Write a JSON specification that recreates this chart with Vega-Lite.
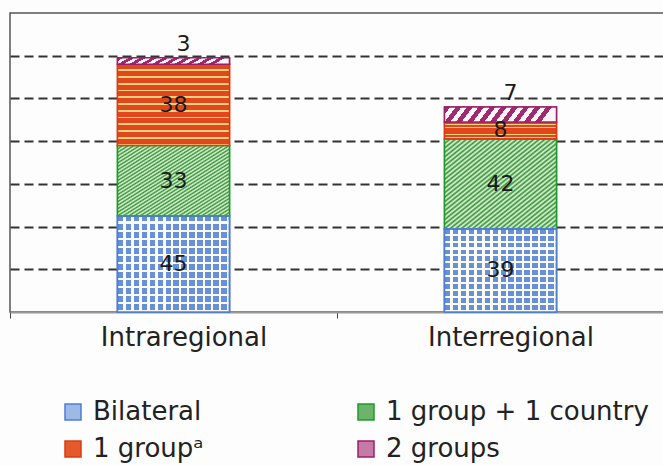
{
  "$schema": "https://vega.github.io/schema/vega-lite/v6.json",
  "width": 654,
  "height": 299,
  "autosize": {"type": "none"},
  "padding": {"left": 10, "top": 13, "right": 0, "bottom": 154},
  "background": "#fdfdfd",
  "config": {
    "view": {"stroke": "#555555", "strokeWidth": 1.5},
    "font": "DejaVu Sans"
  },
  "data": {
    "values": [
      {"region": "Intraregional", "type": "Bilateral", "rank": 1, "value": 45},
      {"region": "Intraregional", "type": "1 group + 1 country", "rank": 2, "value": 33},
      {"region": "Intraregional", "type": "1 group", "rank": 3, "value": 38},
      {"region": "Intraregional", "type": "2 groups", "rank": 4, "value": 3},
      {"region": "Interregional", "type": "Bilateral", "rank": 1, "value": 39},
      {"region": "Interregional", "type": "1 group + 1 country", "rank": 2, "value": 42},
      {"region": "Interregional", "type": "1 group", "rank": 3, "value": 8},
      {"region": "Interregional", "type": "2 groups", "rank": 4, "value": 7}
    ]
  },
  "encoding": {
    "x": {
      "field": "region",
      "type": "nominal",
      "sort": ["Intraregional", "Interregional"],
      "scale": {"paddingInner": 0, "paddingOuter": 0},
      "axis": {
        "title": null,
        "labelAngle": 0,
        "labelFont": "DejaVu Sans",
        "labelFontSize": 26,
        "labelColor": "#222222",
        "labelOffset": 10,
        "labelPadding": 6,
        "tickBand": "extent",
        "tickSize": 6,
        "tickColor": "#444444",
        "tickWidth": 1,
        "domainColor": "#999999",
        "domainWidth": 2,
        "grid": false
      }
    },
    "y": {
      "field": "value", "type": "quantitative", "stack": "zero",
      "scale": {"domain": [0, 140], "nice": false},
      "axis": {"title": null, "values": [20, 40, 60, 80, 100, 120], "grid": true, "gridColor": "#333333", "gridDash": [9, 5], "gridWidth": 1.8, "labels": false, "ticks": false, "domain": false}
    },
    "order": {"field": "rank", "type": "quantitative"}
  },
  "layer": [
    {
      "mark": {"type": "bar", "width": {"band": 0.3425}, "strokeWidth": 1.5},
      "encoding": {
        "color": {
          "field": "type", "type": "nominal",
          "sort": ["Bilateral", "1 group", "1 group + 1 country", "2 groups"],
          "scale": {"range": ["#9fb9e6", "#e45a2c", "#6cb46c", "#c67aa6"]},
          "legend": {
            "orient": "none", "legendX": 50, "legendY": 386, "columns": 2, "title": null,
            "labelFont": "DejaVu Sans", "labelFontSize": 26, "labelColor": "#222222", "labelLimit": 400,
            "symbolType": "square", "symbolSize": 256, "symbolStrokeWidth": 1.5,
            "labelOffset": 7, "rowPadding": 11, "columnPadding": 149,
            "labelExpr": "datum.label === '1 group' ? '1 groupᵃ' : datum.label",
            "encode": {
              "symbols": {
                "update": {
                  "stroke": {"signal": "datum.value === 'Bilateral' ? '#4f7fd0' : datum.value === '1 group' ? '#dc3a12' : datum.value === '1 group + 1 country' ? '#1f9a2a' : '#9c2068'"},
                  "strokeWidth": {"value": 1.5}
                }
              }
            }
          }
        },
        "stroke": {
          "field": "type", "type": "nominal",
          "sort": ["Bilateral", "1 group", "1 group + 1 country", "2 groups"],
          "scale": {"range": ["#4f7fd0", "#dc3a12", "#1f9a2a", "#9c2068"]},
          "legend": null
        }
      }
    },
    {
      "mark": {"type": "bar", "width": {"band": 0.3425}, "strokeWidth": 1.5},
      "encoding": {
        "detail": {"field": "type", "type": "nominal"},
        "stroke": {
          "condition": [
            {"test": "datum.type === 'Bilateral'", "value": "#4f7fd0"},
            {"test": "datum.type === '1 group + 1 country'", "value": "#1f9a2a"},
            {"test": "datum.type === '1 group'", "value": "#dc3a12"}
          ],
          "value": "#9c2068"
        },
        "fill": {
          "condition": [
            {"test": "datum.type === 'Bilateral'", "value":
              {"gradient": "linear", "x1": 0, "y1": 0, "x2": 1, "y2": 0, "stops": [
                {"offset": 0, "color": "#6690dc"}, {"offset": 0.046429, "color": "#6690dc"}, {"offset": 0.046429, "color": "#fdfcf0"}, {"offset": 0.071429, "color": "#fdfcf0"},
                {"offset": 0.071429, "color": "#6690dc"}, {"offset": 0.117857, "color": "#6690dc"}, {"offset": 0.117857, "color": "#fdfcf0"}, {"offset": 0.142857, "color": "#fdfcf0"},
                {"offset": 0.142857, "color": "#6690dc"}, {"offset": 0.189286, "color": "#6690dc"}, {"offset": 0.189286, "color": "#fdfcf0"}, {"offset": 0.214286, "color": "#fdfcf0"},
                {"offset": 0.214286, "color": "#6690dc"}, {"offset": 0.260714, "color": "#6690dc"}, {"offset": 0.260714, "color": "#fdfcf0"}, {"offset": 0.285714, "color": "#fdfcf0"},
                {"offset": 0.285714, "color": "#6690dc"}, {"offset": 0.332143, "color": "#6690dc"}, {"offset": 0.332143, "color": "#fdfcf0"}, {"offset": 0.357143, "color": "#fdfcf0"},
                {"offset": 0.357143, "color": "#6690dc"}, {"offset": 0.403571, "color": "#6690dc"}, {"offset": 0.403571, "color": "#fdfcf0"}, {"offset": 0.428571, "color": "#fdfcf0"},
                {"offset": 0.428571, "color": "#6690dc"}, {"offset": 0.475, "color": "#6690dc"}, {"offset": 0.475, "color": "#fdfcf0"}, {"offset": 0.5, "color": "#fdfcf0"},
                {"offset": 0.5, "color": "#6690dc"}, {"offset": 0.546429, "color": "#6690dc"}, {"offset": 0.546429, "color": "#fdfcf0"}, {"offset": 0.571429, "color": "#fdfcf0"},
                {"offset": 0.571429, "color": "#6690dc"}, {"offset": 0.617857, "color": "#6690dc"}, {"offset": 0.617857, "color": "#fdfcf0"}, {"offset": 0.642857, "color": "#fdfcf0"},
                {"offset": 0.642857, "color": "#6690dc"}, {"offset": 0.689286, "color": "#6690dc"}, {"offset": 0.689286, "color": "#fdfcf0"}, {"offset": 0.714286, "color": "#fdfcf0"},
                {"offset": 0.714286, "color": "#6690dc"}, {"offset": 0.760714, "color": "#6690dc"}, {"offset": 0.760714, "color": "#fdfcf0"}, {"offset": 0.785714, "color": "#fdfcf0"},
                {"offset": 0.785714, "color": "#6690dc"}, {"offset": 0.832143, "color": "#6690dc"}, {"offset": 0.832143, "color": "#fdfcf0"}, {"offset": 0.857143, "color": "#fdfcf0"},
                {"offset": 0.857143, "color": "#6690dc"}, {"offset": 0.903571, "color": "#6690dc"}, {"offset": 0.903571, "color": "#fdfcf0"}, {"offset": 0.928571, "color": "#fdfcf0"},
                {"offset": 0.928571, "color": "#6690dc"}, {"offset": 0.975, "color": "#6690dc"}, {"offset": 0.975, "color": "#fdfcf0"}, {"offset": 1, "color": "#fdfcf0"}
              ]}
            },
            {"test": "datum.type === '1 group + 1 country'", "value":
              {"gradient": "linear", "x1": 0, "y1": 0, "x2": 1, "y2": 1, "stops": [
                {"offset": 0, "color": "#2f942f"}, {"offset": 0.0125, "color": "#e8f5e2"}, {"offset": 0.025, "color": "#2f942f"}, {"offset": 0.0375, "color": "#e8f5e2"},
                {"offset": 0.05, "color": "#2f942f"}, {"offset": 0.0625, "color": "#e8f5e2"}, {"offset": 0.075, "color": "#2f942f"}, {"offset": 0.0875, "color": "#e8f5e2"},
                {"offset": 0.1, "color": "#2f942f"}, {"offset": 0.1125, "color": "#e8f5e2"}, {"offset": 0.125, "color": "#2f942f"}, {"offset": 0.1375, "color": "#e8f5e2"},
                {"offset": 0.15, "color": "#2f942f"}, {"offset": 0.1625, "color": "#e8f5e2"}, {"offset": 0.175, "color": "#2f942f"}, {"offset": 0.1875, "color": "#e8f5e2"},
                {"offset": 0.2, "color": "#2f942f"}, {"offset": 0.2125, "color": "#e8f5e2"}, {"offset": 0.225, "color": "#2f942f"}, {"offset": 0.2375, "color": "#e8f5e2"},
                {"offset": 0.25, "color": "#2f942f"}, {"offset": 0.2625, "color": "#e8f5e2"}, {"offset": 0.275, "color": "#2f942f"}, {"offset": 0.2875, "color": "#e8f5e2"},
                {"offset": 0.3, "color": "#2f942f"}, {"offset": 0.3125, "color": "#e8f5e2"}, {"offset": 0.325, "color": "#2f942f"}, {"offset": 0.3375, "color": "#e8f5e2"},
                {"offset": 0.35, "color": "#2f942f"}, {"offset": 0.3625, "color": "#e8f5e2"}, {"offset": 0.375, "color": "#2f942f"}, {"offset": 0.3875, "color": "#e8f5e2"},
                {"offset": 0.4, "color": "#2f942f"}, {"offset": 0.4125, "color": "#e8f5e2"}, {"offset": 0.425, "color": "#2f942f"}, {"offset": 0.4375, "color": "#e8f5e2"},
                {"offset": 0.45, "color": "#2f942f"}, {"offset": 0.4625, "color": "#e8f5e2"}, {"offset": 0.475, "color": "#2f942f"}, {"offset": 0.4875, "color": "#e8f5e2"},
                {"offset": 0.5, "color": "#2f942f"}, {"offset": 0.5125, "color": "#e8f5e2"}, {"offset": 0.525, "color": "#2f942f"}, {"offset": 0.5375, "color": "#e8f5e2"},
                {"offset": 0.55, "color": "#2f942f"}, {"offset": 0.5625, "color": "#e8f5e2"}, {"offset": 0.575, "color": "#2f942f"}, {"offset": 0.5875, "color": "#e8f5e2"},
                {"offset": 0.6, "color": "#2f942f"}, {"offset": 0.6125, "color": "#e8f5e2"}, {"offset": 0.625, "color": "#2f942f"}, {"offset": 0.6375, "color": "#e8f5e2"},
                {"offset": 0.65, "color": "#2f942f"}, {"offset": 0.6625, "color": "#e8f5e2"}, {"offset": 0.675, "color": "#2f942f"}, {"offset": 0.6875, "color": "#e8f5e2"},
                {"offset": 0.7, "color": "#2f942f"}, {"offset": 0.7125, "color": "#e8f5e2"}, {"offset": 0.725, "color": "#2f942f"}, {"offset": 0.7375, "color": "#e8f5e2"},
                {"offset": 0.75, "color": "#2f942f"}, {"offset": 0.7625, "color": "#e8f5e2"}, {"offset": 0.775, "color": "#2f942f"}, {"offset": 0.7875, "color": "#e8f5e2"},
                {"offset": 0.8, "color": "#2f942f"}, {"offset": 0.8125, "color": "#e8f5e2"}, {"offset": 0.825, "color": "#2f942f"}, {"offset": 0.8375, "color": "#e8f5e2"},
                {"offset": 0.85, "color": "#2f942f"}, {"offset": 0.8625, "color": "#e8f5e2"}, {"offset": 0.875, "color": "#2f942f"}, {"offset": 0.8875, "color": "#e8f5e2"},
                {"offset": 0.9, "color": "#2f942f"}, {"offset": 0.9125, "color": "#e8f5e2"}, {"offset": 0.925, "color": "#2f942f"}, {"offset": 0.9375, "color": "#e8f5e2"},
                {"offset": 0.95, "color": "#2f942f"}, {"offset": 0.9625, "color": "#e8f5e2"}, {"offset": 0.975, "color": "#2f942f"}, {"offset": 0.9875, "color": "#e8f5e2"},
                {"offset": 1, "color": "#2f942f"}
              ]}
            },
            {"test": "datum.type === '1 group'", "value":
              {"gradient": "linear", "x1": 0, "y1": 0, "x2": 0, "y2": 1, "stops": [
                {"offset": 0, "color": "#e2461c"}, {"offset": 0.0625, "color": "#e2461c"}, {"offset": 0.0625, "color": "#f6d27c"}, {"offset": 0.083333, "color": "#f6d27c"},
                {"offset": 0.083333, "color": "#e2461c"}, {"offset": 0.145833, "color": "#e2461c"}, {"offset": 0.145833, "color": "#f6d27c"}, {"offset": 0.166667, "color": "#f6d27c"},
                {"offset": 0.166667, "color": "#e2461c"}, {"offset": 0.229167, "color": "#e2461c"}, {"offset": 0.229167, "color": "#f6d27c"}, {"offset": 0.25, "color": "#f6d27c"},
                {"offset": 0.25, "color": "#e2461c"}, {"offset": 0.3125, "color": "#e2461c"}, {"offset": 0.3125, "color": "#f6d27c"}, {"offset": 0.333333, "color": "#f6d27c"},
                {"offset": 0.333333, "color": "#e2461c"}, {"offset": 0.395833, "color": "#e2461c"}, {"offset": 0.395833, "color": "#f6d27c"}, {"offset": 0.416667, "color": "#f6d27c"},
                {"offset": 0.416667, "color": "#e2461c"}, {"offset": 0.479167, "color": "#e2461c"}, {"offset": 0.479167, "color": "#f6d27c"}, {"offset": 0.5, "color": "#f6d27c"},
                {"offset": 0.5, "color": "#e2461c"}, {"offset": 0.5625, "color": "#e2461c"}, {"offset": 0.5625, "color": "#f6d27c"}, {"offset": 0.583333, "color": "#f6d27c"},
                {"offset": 0.583333, "color": "#e2461c"}, {"offset": 0.645833, "color": "#e2461c"}, {"offset": 0.645833, "color": "#f6d27c"}, {"offset": 0.666667, "color": "#f6d27c"},
                {"offset": 0.666667, "color": "#e2461c"}, {"offset": 0.729167, "color": "#e2461c"}, {"offset": 0.729167, "color": "#f6d27c"}, {"offset": 0.75, "color": "#f6d27c"},
                {"offset": 0.75, "color": "#e2461c"}, {"offset": 0.8125, "color": "#e2461c"}, {"offset": 0.8125, "color": "#f6d27c"}, {"offset": 0.833333, "color": "#f6d27c"},
                {"offset": 0.833333, "color": "#e2461c"}, {"offset": 0.895833, "color": "#e2461c"}, {"offset": 0.895833, "color": "#f6d27c"}, {"offset": 0.916667, "color": "#f6d27c"},
                {"offset": 0.916667, "color": "#e2461c"}, {"offset": 0.979167, "color": "#e2461c"}, {"offset": 0.979167, "color": "#f6d27c"}, {"offset": 1, "color": "#f6d27c"}
              ]}
            }
          ],
          "value": {"gradient": "linear", "x1": 0, "y1": 0, "x2": 1, "y2": 0.1, "stops": [
            {"offset": 0, "color": "#a02a70"}, {"offset": 0.05, "color": "#a02a70"}, {"offset": 0.05, "color": "#fbf4f8"}, {"offset": 0.1, "color": "#fbf4f8"},
            {"offset": 0.1, "color": "#a02a70"}, {"offset": 0.15, "color": "#a02a70"}, {"offset": 0.15, "color": "#fbf4f8"}, {"offset": 0.2, "color": "#fbf4f8"},
            {"offset": 0.2, "color": "#a02a70"}, {"offset": 0.25, "color": "#a02a70"}, {"offset": 0.25, "color": "#fbf4f8"}, {"offset": 0.3, "color": "#fbf4f8"},
            {"offset": 0.3, "color": "#a02a70"}, {"offset": 0.35, "color": "#a02a70"}, {"offset": 0.35, "color": "#fbf4f8"}, {"offset": 0.4, "color": "#fbf4f8"},
            {"offset": 0.4, "color": "#a02a70"}, {"offset": 0.45, "color": "#a02a70"}, {"offset": 0.45, "color": "#fbf4f8"}, {"offset": 0.5, "color": "#fbf4f8"},
            {"offset": 0.5, "color": "#a02a70"}, {"offset": 0.55, "color": "#a02a70"}, {"offset": 0.55, "color": "#fbf4f8"}, {"offset": 0.6, "color": "#fbf4f8"},
            {"offset": 0.6, "color": "#a02a70"}, {"offset": 0.65, "color": "#a02a70"}, {"offset": 0.65, "color": "#fbf4f8"}, {"offset": 0.7, "color": "#fbf4f8"},
            {"offset": 0.7, "color": "#a02a70"}, {"offset": 0.75, "color": "#a02a70"}, {"offset": 0.75, "color": "#fbf4f8"}, {"offset": 0.8, "color": "#fbf4f8"},
            {"offset": 0.8, "color": "#a02a70"}, {"offset": 0.85, "color": "#a02a70"}, {"offset": 0.85, "color": "#fbf4f8"}, {"offset": 0.9, "color": "#fbf4f8"},
            {"offset": 0.9, "color": "#a02a70"}, {"offset": 0.95, "color": "#a02a70"}, {"offset": 0.95, "color": "#fbf4f8"}, {"offset": 1, "color": "#fbf4f8"}
          ]}
        }
      }
    },
    {
      "mark": {"type": "bar", "width": {"band": 0.3425}, "strokeWidth": 1.5},
      "encoding": {
        "detail": {"field": "type", "type": "nominal"},
        "stroke": {
          "condition": {"test": "datum.type === 'Bilateral'", "value": "#4f7fd0"},
          "value": "rgba(0,0,0,0)"
        },
        "fill": {
          "condition": {"test": "datum.type === 'Bilateral'", "value":
            {"gradient": "linear", "x1": 0, "y1": 0, "x2": 0, "y2": 1, "stops": [
              {"offset": 0, "color": "rgba(253,252,240,0)"}, {"offset": 0.058333, "color": "rgba(253,252,240,0)"}, {"offset": 0.058333, "color": "#fdfcf0"}, {"offset": 0.083333, "color": "#fdfcf0"},
              {"offset": 0.083333, "color": "rgba(253,252,240,0)"}, {"offset": 0.141667, "color": "rgba(253,252,240,0)"}, {"offset": 0.141667, "color": "#fdfcf0"}, {"offset": 0.166667, "color": "#fdfcf0"},
              {"offset": 0.166667, "color": "rgba(253,252,240,0)"}, {"offset": 0.225, "color": "rgba(253,252,240,0)"}, {"offset": 0.225, "color": "#fdfcf0"}, {"offset": 0.25, "color": "#fdfcf0"},
              {"offset": 0.25, "color": "rgba(253,252,240,0)"}, {"offset": 0.308333, "color": "rgba(253,252,240,0)"}, {"offset": 0.308333, "color": "#fdfcf0"}, {"offset": 0.333333, "color": "#fdfcf0"},
              {"offset": 0.333333, "color": "rgba(253,252,240,0)"}, {"offset": 0.391667, "color": "rgba(253,252,240,0)"}, {"offset": 0.391667, "color": "#fdfcf0"}, {"offset": 0.416667, "color": "#fdfcf0"},
              {"offset": 0.416667, "color": "rgba(253,252,240,0)"}, {"offset": 0.475, "color": "rgba(253,252,240,0)"}, {"offset": 0.475, "color": "#fdfcf0"}, {"offset": 0.5, "color": "#fdfcf0"},
              {"offset": 0.5, "color": "rgba(253,252,240,0)"}, {"offset": 0.558333, "color": "rgba(253,252,240,0)"}, {"offset": 0.558333, "color": "#fdfcf0"}, {"offset": 0.583333, "color": "#fdfcf0"},
              {"offset": 0.583333, "color": "rgba(253,252,240,0)"}, {"offset": 0.641667, "color": "rgba(253,252,240,0)"}, {"offset": 0.641667, "color": "#fdfcf0"}, {"offset": 0.666667, "color": "#fdfcf0"},
              {"offset": 0.666667, "color": "rgba(253,252,240,0)"}, {"offset": 0.725, "color": "rgba(253,252,240,0)"}, {"offset": 0.725, "color": "#fdfcf0"}, {"offset": 0.75, "color": "#fdfcf0"},
              {"offset": 0.75, "color": "rgba(253,252,240,0)"}, {"offset": 0.808333, "color": "rgba(253,252,240,0)"}, {"offset": 0.808333, "color": "#fdfcf0"}, {"offset": 0.833333, "color": "#fdfcf0"},
              {"offset": 0.833333, "color": "rgba(253,252,240,0)"}, {"offset": 0.891667, "color": "rgba(253,252,240,0)"}, {"offset": 0.891667, "color": "#fdfcf0"}, {"offset": 0.916667, "color": "#fdfcf0"},
              {"offset": 0.916667, "color": "rgba(253,252,240,0)"}, {"offset": 0.975, "color": "rgba(253,252,240,0)"}, {"offset": 0.975, "color": "#fdfcf0"}, {"offset": 1, "color": "#fdfcf0"}
            ]}
          },
          "value": "rgba(0,0,0,0)"
        }
      }
    },
    {
      "mark": {"type": "text", "fontSize": 22, "baseline": "middle", "font": "DejaVu Sans", "color": "#1a1a1a"},
      "encoding": {
        "y": {
          "field": "value", "type": "quantitative", "stack": "zero", "bandPosition": 0.5,
          "scale": {"domain": [0, 140], "nice": false},
          "axis": {"title": null, "values": [20, 40, 60, 80, 100, 120], "grid": true, "gridColor": "#333333", "gridDash": [9, 5], "gridWidth": 1.8, "labels": false, "ticks": false, "domain": false}
        },
        "detail": {"field": "type", "type": "nominal"},
        "text": {"condition": {"test": "datum.type === '2 groups'", "value": ""}, "field": "value", "type": "quantitative"}
      }
    },
    {
      "mark": {"type": "text", "fontSize": 22, "baseline": "middle", "font": "DejaVu Sans", "color": "#1a1a1a", "dy": -14, "dx": 10},
      "encoding": {
        "y": {
          "field": "value", "type": "quantitative", "stack": "zero", "bandPosition": 1,
          "scale": {"domain": [0, 140], "nice": false},
          "axis": {"title": null, "values": [20, 40, 60, 80, 100, 120], "grid": true, "gridColor": "#333333", "gridDash": [9, 5], "gridWidth": 1.8, "labels": false, "ticks": false, "domain": false}
        },
        "detail": {"field": "type", "type": "nominal"},
        "text": {"condition": {"test": "datum.type !== '2 groups'", "value": ""}, "field": "value", "type": "quantitative"}
      }
    }
  ],
  "resolve": {"scale": {"color": "independent", "stroke": "independent"}}
}
